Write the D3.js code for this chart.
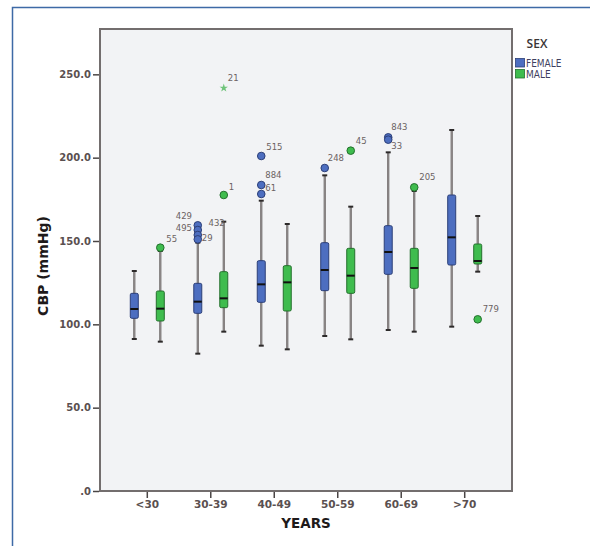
<!DOCTYPE html>
<html>
<head>
<meta charset="utf-8">
<script src="https://cdn.jsdelivr.net/npm/d3@7"></script>
<style>
  body { margin: 0; background: #fff; }
  svg { display: block; }
</style>
</head>
<body>
<svg width="590" height="546"></svg>
<script>
// age groups and sexes
var categories = ['<30', '30-39', '40-49', '50-59', '60-69', '>70'];
var sexes = ['FEMALE', 'MALE'];

// box stats per age group: whisker low, q1, median, q3, whisker high
var femaleLow    = [91.2, 82.4, 87.2, 93.0, 96.6, 98.6];
var femaleQ1     = [103.6, 106.6, 113.2, 120.2, 130.0, 135.6];
var femaleMedian = [109.2, 113.6, 124.0, 132.6, 143.4, 152.2];
var femaleQ3     = [118.6, 124.6, 138.2, 149.0, 159.2, 177.6];
var femaleHigh   = [132.0, 149.0, 174.2, 189.4, 203.2, 216.6];

var maleLow    = [89.6, 95.6, 85.0, 91.0, 95.6, 131.6];
var maleQ1     = [102.0, 110.0, 108.0, 118.6, 121.6, 136.2];
var maleMedian = [109.4, 115.6, 125.2, 129.2, 133.8, 138.0];
var maleQ3     = [120.0, 131.6, 135.2, 145.6, 145.6, 148.2];
var maleHigh   = [144.0, 161.6, 160.2, 170.6, 180.0, 165.0];

// outliers: [age group, sex, value, case label]
var outliers = [
  ['<30',   'MALE',   146.0, '55'],
  ['30-39', 'FEMALE', 159.4, '429'],
  ['30-39', 'FEMALE', 156.6, '495'],
  ['30-39', 'FEMALE', 153.6, '29'],
  ['30-39', 'FEMALE', 151.0, ''],
  ['30-39', 'MALE',   177.6, '1'],
  ['40-49', 'FEMALE', 201.0, '515'],
  ['40-49', 'FEMALE', 183.6, '884'],
  ['40-49', 'FEMALE', 178.2, '61'],
  ['50-59', 'FEMALE', 193.8, '248'],
  ['50-59', 'MALE',   204.2, '45'],
  ['60-69', 'FEMALE', 212.2, '843'],
  ['60-69', 'FEMALE', 210.8, '33'],
  ['60-69', 'MALE',   182.2, '205'],
  ['>70',   'MALE',   103.0, '779']
];
// extreme values (stars)
var extremes = [
  ['30-39', 'MALE', 241.8, '21']
];

var yTicks = [0, 50, 100, 150, 200, 250];

// label offsets (layout only)
var labelOffset = {
  '55': [6, -6], '429': [-22, -6], '495': [-22, 1], '29': [4, 6],
  '1': [5, -5], '21': [4, -7], '515': [5, -6], '884': [4, -7], '61': [4, -3],
  '248': [3, -7], '45': [5, -7], '843': [3, -7], '33': [3, 9],
  '205': [5, -7], '779': [5, -7]
};

var colors = { FEMALE: '#4d6ec0', MALE: '#3fbc4e' };
var strokes = { FEMALE: '#2c3f78', MALE: '#24702d' };

var svg = d3.select('svg');
var plotL = 100, plotR = 512, plotT = 29, plotB = 491;

// outer frame
svg.append('path')
  .attr('d', 'M12.5,560 L12.5,7.5 L600,7.5')
  .attr('fill', 'none')
  .attr('stroke', '#3d6aa6')
  .attr('stroke-width', 1.5);

var x = d3.scaleBand()
  .domain(categories)
  .range([plotL, plotR])
  .paddingInner(0)
  .paddingOuter(0.245);

var xs = d3.scalePoint()
  .domain(sexes)
  .range([-13, 13]);

var y = d3.scaleLinear()
  .domain([0, 277.2])
  .range([plotB, plotT]);

// plot background
svg.append('rect')
  .attr('x', plotL)
  .attr('y', plotT)
  .attr('width', plotR - plotL)
  .attr('height', plotB - plotT)
  .attr('fill', '#f2f3f5')
  .attr('stroke', '#736e6e')
  .attr('stroke-width', 2);

function cx(cat, sex) { return x(cat) + x.bandwidth() / 2 + xs(sex); }

var boxes = [];
categories.forEach(function(c, i) {
  boxes.push({cat: c, sex: 'FEMALE', lo: femaleLow[i], q1: femaleQ1[i], med: femaleMedian[i], q3: femaleQ3[i], hi: femaleHigh[i]});
  boxes.push({cat: c, sex: 'MALE', lo: maleLow[i], q1: maleQ1[i], med: maleMedian[i], q3: maleQ3[i], hi: maleHigh[i]});
});

var boxW = 8;
var g = svg.append('g');

// whiskers
g.selectAll('line.whisker')
  .data(boxes)
  .enter().append('line')
  .attr('class', 'whisker')
  .attr('x1', function(d) { return cx(d.cat, d.sex); })
  .attr('x2', function(d) { return cx(d.cat, d.sex); })
  .attr('y1', function(d) { return y(d.lo); })
  .attr('y2', function(d) { return y(d.hi); })
  .attr('stroke', '#6f6a6a')
  .attr('stroke-width', 2.2);
g.selectAll('line.whisker-in')
  .data(boxes)
  .enter().append('line')
  .attr('x1', function(d) { return cx(d.cat, d.sex); })
  .attr('x2', function(d) { return cx(d.cat, d.sex); })
  .attr('y1', function(d) { return y(d.lo); })
  .attr('y2', function(d) { return y(d.hi); })
  .attr('stroke', '#9b9696')
  .attr('stroke-width', 0.8);

// caps
['lo', 'hi'].forEach(function(k) {
  g.selectAll('line.cap-' + k)
    .data(boxes)
    .enter().append('line')
    .attr('x1', function(d) { return cx(d.cat, d.sex) - 2.5; })
    .attr('x2', function(d) { return cx(d.cat, d.sex) + 2.5; })
    .attr('y1', function(d) { return y(d[k]); })
    .attr('y2', function(d) { return y(d[k]); })
    .attr('stroke', '#2d2a2a')
    .attr('stroke-width', 2);
});

// boxes
g.selectAll('rect.box')
  .data(boxes)
  .enter().append('rect')
  .attr('x', function(d) { return cx(d.cat, d.sex) - boxW / 2; })
  .attr('y', function(d) { return y(d.q3); })
  .attr('width', boxW)
  .attr('height', function(d) { return y(d.q1) - y(d.q3); })
  .attr('rx', 1.5)
  .attr('fill', function(d) { return colors[d.sex]; })
  .attr('stroke', function(d) { return strokes[d.sex]; })
  .attr('stroke-width', 1);

// medians
g.selectAll('line.median')
  .data(boxes)
  .enter().append('line')
  .attr('x1', function(d) { return cx(d.cat, d.sex) - boxW / 2; })
  .attr('x2', function(d) { return cx(d.cat, d.sex) + boxW / 2; })
  .attr('y1', function(d) { return y(d.med); })
  .attr('y2', function(d) { return y(d.med); })
  .attr('stroke', '#111')
  .attr('stroke-width', 2);

// outliers
g.selectAll('circle.out')
  .data(outliers)
  .enter().append('circle')
  .attr('cx', function(d) { return cx(d[0], d[1]); })
  .attr('cy', function(d) { return y(d[2]); })
  .attr('r', 3.8)
  .attr('fill', function(d) { return colors[d[1]]; })
  .attr('stroke', function(d) { return strokes[d[1]]; })
  .attr('stroke-width', 1);

g.selectAll('path.ext')
  .data(extremes)
  .enter().append('path')
  .attr('transform', function(d) { return 'translate(' + cx(d[0], d[1]) + ',' + y(d[2]) + ')'; })
  .attr('d', d3.symbol().type(d3.symbolStar).size(22))
  .attr('fill', '#6fc47a');

var labelFont = '"DejaVu Sans", sans-serif';
g.selectAll('text.olab')
  .data(outliers.concat(extremes).filter(function(d) { return d[3]; }))
  .enter().append('text')
  .attr('x', function(d) { return cx(d[0], d[1]) + labelOffset[d[3]][0]; })
  .attr('y', function(d) { return y(d[2]) + labelOffset[d[3]][1]; })
  .attr('font-family', labelFont)
  .attr('font-size', 8.5)
  .attr('fill', '#6b6262')
  .text(function(d) { return d[3]; });

// case label sitting on the 30-39 male whisker end
g.append('text')
  .attr('x', cx('30-39', 'MALE') + 1)
  .attr('y', y(maleHigh[1]) + 4)
  .attr('text-anchor', 'end')
  .attr('font-family', labelFont)
  .attr('font-size', 8.5)
  .attr('fill', '#6b6262')
  .text('432');

// axes
var tickColor = '#5a5050';
var yAxis = svg.append('g')
  .attr('transform', 'translate(' + (plotL - 1) + ',0)')
  .call(d3.axisLeft(y).tickValues(yTicks).tickSize(6).tickPadding(2)
    .tickFormat(function(d) { return d === 0 ? '.0' : d3.format('.1f')(d); }));
yAxis.select('.domain').remove();
yAxis.selectAll('line').attr('stroke', '#4a4545').attr('stroke-width', 1.5);
yAxis.selectAll('text')
  .attr('font-family', labelFont)
  .attr('font-weight', 'bold')
  .attr('font-size', 10)
  .attr('fill', tickColor);

var xAxis = svg.append('g')
  .attr('transform', 'translate(0,' + (plotB + 1) + ')')
  .call(d3.axisBottom(x).tickSize(6).tickPadding(3));
xAxis.select('.domain').remove();
xAxis.selectAll('line').attr('stroke', '#4a4545').attr('stroke-width', 1.5);
xAxis.selectAll('text')
  .attr('font-family', labelFont)
  .attr('font-weight', 'bold')
  .attr('font-size', 10.5)
  .attr('fill', tickColor);

// axis titles
svg.append('text')
  .attr('transform', 'translate(48,' + ((plotT + plotB) / 2 + 6) + ') rotate(-90)')
  .attr('text-anchor', 'middle')
  .attr('font-family', labelFont)
  .attr('font-weight', 'bold')
  .attr('font-size', 14)
  .attr('fill', '#1e1a1a')
  .text('CBP (mmHg)');

svg.append('text')
  .attr('x', (plotL + plotR) / 2)
  .attr('y', 528)
  .attr('text-anchor', 'middle')
  .attr('font-family', labelFont)
  .attr('font-weight', 'bold')
  .attr('font-size', 13.5)
  .attr('fill', '#1e1a1a')
  .text('YEARS');

// legend
var legend = svg.append('g').attr('transform', 'translate(515,0)');
legend.append('text')
  .attr('x', 22)
  .attr('y', 48)
  .attr('text-anchor', 'middle')
  .attr('font-family', '"Open Sans", sans-serif')
  .attr('font-weight', 600)
  .attr('font-size', 12)
  .attr('fill', '#3a3535')
  .text('SEX');
legend.selectAll('rect')
  .data(sexes)
  .enter().append('rect')
  .attr('x', 0.5)
  .attr('y', function(d, i) { return 58.5 + i * 11; })
  .attr('width', 9)
  .attr('height', 8.5)
  .attr('fill', function(d) { return colors[d]; })
  .attr('stroke', function(d) { return strokes[d]; })
  .attr('stroke-width', 0.8);
legend.selectAll('text.lab')
  .data(sexes)
  .enter().append('text')
  .attr('class', 'lab')
  .attr('x', 11)
  .attr('y', function(d, i) { return 66.5 + i * 11; })
  .attr('font-family', '"DejaVu Sans Condensed", "DejaVu Sans", sans-serif')
  .attr('font-size', 10)
  .attr('fill', '#3f3f5f')
  .text(function(d) { return d; });
</script>
</body>
</html>
